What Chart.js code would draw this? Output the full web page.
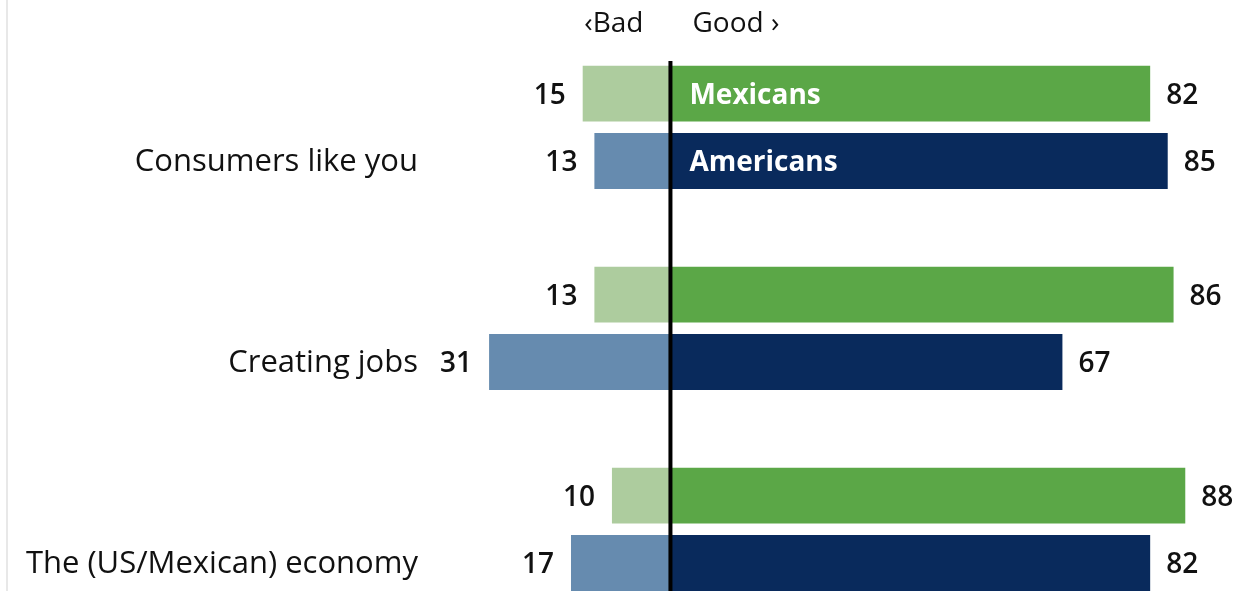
<!DOCTYPE html>
<html>
<head>
<meta charset="utf-8">
<title>Good or bad</title>
<script src="https://cdn.jsdelivr.net/npm/chart.js@4/dist/chart.umd.min.js"></script>
<style>
  html, body { margin: 0; padding: 0; background: #fff; overflow: hidden; }
  #wrap { position: relative; width: 1245px; height: 591px; }
</style>
</head>
<body>
<div id="wrap"><canvas id="chart" width="1245" height="591"></canvas></div>
<script>
// categories and shares (%) saying bad / good
const categories = ["Consumers like you", "Creating jobs", "The (US/Mexican) economy"];
const seriesNames = ["Mexicans", "Americans"];
const mexBad  = [15, 13, 10];
const mexGood = [82, 86, 88];
const amBad   = [13, 31, 17];
const amGood  = [85, 67, 82];

const FONT = "'Open Sans', 'DejaVu Sans', sans-serif";
const colors = {
  mexBad: "#adcc9e",
  mexGood: "#5ba747",
  amBad: "#668baf",
  amGood: "#092a5c"
};

// labels, zero line and the Bad / Good header
const decor = {
  id: "decor",
  beforeDraw(chart) {
    const ctx = chart.ctx;
    ctx.save();
    ctx.fillStyle = "#e8e8e8";
    ctx.fillRect(6, 0, 2, chart.height);
    ctx.restore();
  },
  afterDatasetsDraw(chart) {
    const ctx = chart.ctx;
    const x0 = chart.scales.x.getPixelForValue(0);
    ctx.save();

    // value labels
    ctx.font = "600 28px " + FONT;
    ctx.fillStyle = "#111";
    ctx.textBaseline = "middle";
    chart.data.datasets.forEach((ds, di) => {
      const meta = chart.getDatasetMeta(di);
      meta.data.forEach((bar, i) => {
        const v = ds.data[i];
        if (v < 0) {
          ctx.textAlign = "right";
          ctx.fillText(String(-v), bar.x - 17, bar.y + 2);
        } else {
          ctx.textAlign = "left";
          ctx.fillText(String(v), bar.x + 16, bar.y + 2);
        }
      });
    });

    // series names inside the first pair of good bars
    ctx.font = "bold 28px " + FONT;
    ctx.fillStyle = "#fff";
    ctx.textAlign = "left";
    [1, 3].forEach((di, k) => {
      const bar = chart.getDatasetMeta(di).data[0];
      ctx.fillText(seriesNames[k], x0 + 19, bar.y + 2);
    });

    // zero line
    ctx.fillStyle = "#000";
    ctx.fillRect(x0 - 2, 61, 4, chart.height - 61);

    // header
    ctx.font = "28px " + FONT;
    ctx.fillStyle = "#111";
    ctx.textAlign = "right";
    ctx.fillText("\u2039Bad", x0 - 27, 24);
    ctx.textAlign = "left";
    ctx.fillText("Good \u203a", x0 + 22, 24);
    ctx.restore();
  }
};

new Chart(document.getElementById("chart"), {
  type: "bar",
  data: {
    labels: categories,
    datasets: [
      { label: "Mexicans bad", data: mexBad.map(v => -v), backgroundColor: colors.mexBad, stack: "mex" },
      { label: "Mexicans good", data: mexGood, backgroundColor: colors.mexGood, stack: "mex" },
      { label: "Americans bad", data: amBad.map(v => -v), backgroundColor: colors.amBad, stack: "am" },
      { label: "Americans good", data: amGood, backgroundColor: colors.amGood, stack: "am" }
    ]
  },
  options: {
    indexAxis: "y",
    responsive: false,
    animation: false,
    layout: { padding: { top: 127.3, bottom: 61.7, left: 0, right: 10 } },
    datasets: { bar: { categoryPercentage: 0.67, barPercentage: 0.83, borderWidth: 0, clip: false } },
    plugins: { legend: { display: false }, tooltip: { enabled: false } },
    scales: {
      x: {
        stacked: true,
        display: false,
        min: -41.1,
        max: 96.5
      },
      y: {
        stacked: true,
        offset: false,
        grid: { display: false },
        border: { display: false },
        afterFit(scale) { scale.width = 430; },
        ticks: {
          padding: 4,
          labelOffset: 34.5,
          color: "#111",
          font: { family: FONT, size: 31 }
        }
      }
    }
  },
  plugins: [decor]
});
</script>
</body>
</html>
